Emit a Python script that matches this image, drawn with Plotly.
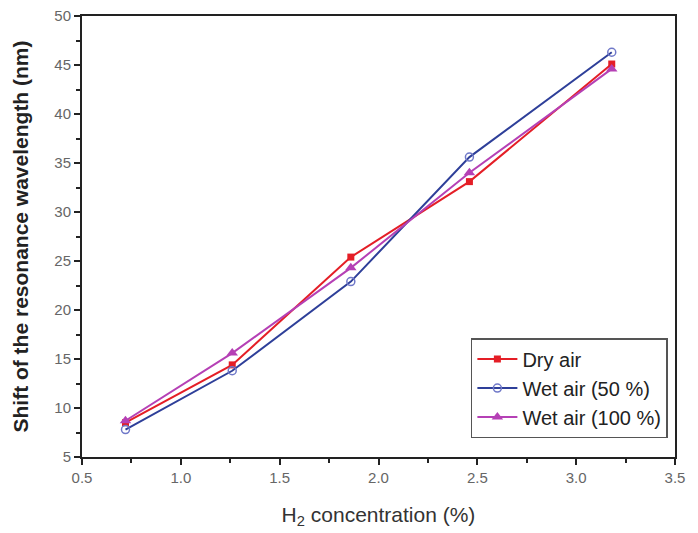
import plotly.graph_objects as go

conc = [0.72, 1.26, 1.86, 2.46, 3.18]
dry_air = [8.5, 14.4, 25.4, 33.1, 45.1]
wet_50 = [7.8, 13.8, 22.9, 35.6, 46.3]
wet_100 = [8.7, 15.6, 24.3, 34.0, 44.6]

fig = go.Figure()
fig.add_trace(go.Scatter(x=conc, y=dry_air, name="Dry air", mode="lines+markers",
                         line=dict(color="#e41e26", width=2),
                         marker=dict(symbol="square", size=7, color="#e41e26")))
fig.add_trace(go.Scatter(x=conc, y=wet_50, name="Wet air (50 %)", mode="lines+markers",
                         line=dict(color="#2e3f99", width=2),
                         marker=dict(symbol="circle-open", size=8, color="#6f78c8", line=dict(width=1.5))))
fig.add_trace(go.Scatter(x=conc, y=wet_100, name="Wet air (100 %)", mode="lines+markers",
                         line=dict(color="#b540b5", width=2),
                         marker=dict(symbol="triangle-up", size=10, color="#b540b5")))

axis_common = dict(showline=True, linecolor="#222", linewidth=2, mirror=True,
                   ticks="outside", ticklen=6, tickwidth=2, tickcolor="#222",
                   showgrid=False, zeroline=False, automargin=False,
                   ticklabeloverflow="allow",
                   tickfont=dict(family="Liberation Sans, Arial", size=15, color="#666"))

fig.update_layout(
    width=690, height=525,
    margin=dict(l=74, r=23, t=8, b=76),
    paper_bgcolor="white", plot_bgcolor="white",
    font=dict(family="Liberation Sans, Arial"),
    xaxis=dict(range=[0.5, 3.5], dtick=0.5, tickformat=".1f",
               minor=dict(ticks="outside", dtick=0.25, ticklen=4, tickwidth=2, tickcolor="#222"),
               title=dict(text="H<sub>2</sub> concentration (%)", font=dict(size=21, color="#333"),
                          standoff=22),
               **axis_common),
    yaxis=dict(range=[5, 50], dtick=5,
               minor=dict(ticks="outside", dtick=2.5, ticklen=4, tickwidth=2, tickcolor="#222"),
               title=dict(text="<b>Shift of the resonance wavelength (nm)</b>", font=dict(size=21, color="#222"),
                          standoff=20),
               **axis_common),
    legend=dict(x=0.988, y=0.043, xanchor="right", yanchor="bottom",
                bordercolor="#555", borderwidth=1.5, bgcolor="white",
                font=dict(size=20, color="#222"), tracegroupgap=0, itemwidth=40),
    showlegend=True,
)

fig.write_html("out.html")
